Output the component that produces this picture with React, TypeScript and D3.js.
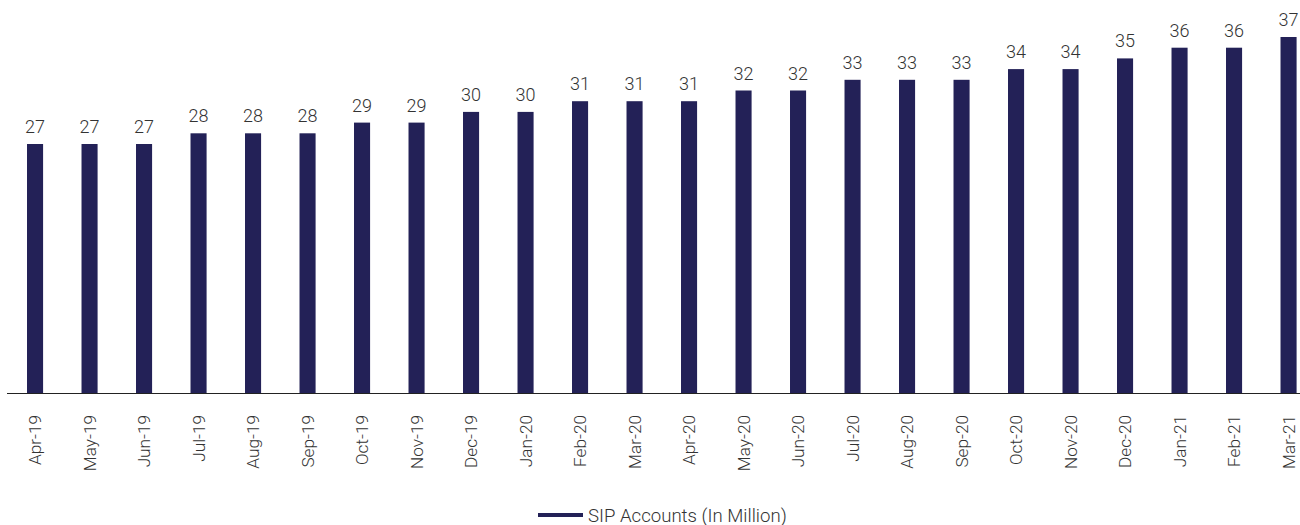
import * as d3 from "d3";
import { useEffect, useRef } from "react";

const months = [
  "Apr-19", "May-19", "Jun-19", "Jul-19", "Aug-19", "Sep-19", "Oct-19", "Nov-19",
  "Dec-19", "Jan-20", "Feb-20", "Mar-20", "Apr-20", "May-20", "Jun-20", "Jul-20",
  "Aug-20", "Sep-20", "Oct-20", "Nov-20", "Dec-20", "Jan-21", "Feb-21", "Mar-21",
];
const sipAccounts = [
  27, 27, 27, 28, 28, 28, 29, 29, 30, 30, 31, 31, 31, 32, 32, 33, 33, 33, 34, 34, 35, 36, 36, 37,
];
const seriesName = "SIP Accounts (In Million)";

const width = 1300;
const height = 525;
const barColor = "#232157";
const textColor = "#333333";
const font = "Roboto, 'Liberation Sans', sans-serif";

export default function App() {
  const ref = useRef(null);

  useEffect(() => {
    draw();
  });

  function draw() {
    const svg = d3.select(ref.current);
    // clean the slate
    svg.selectAll("*").remove();

    const baseline = 393;
    const x = d3
      .scaleBand()
      .domain(months)
      .range([7.8, 7.8 + 54.5 * months.length])
      .paddingInner(0.705)
      .paddingOuter(0.3525);
    const y = d3.scaleLinear().domain([3.73, 37]).range([baseline, 37]);

    // bars
    svg
      .append("g")
      .selectAll("rect")
      .data(sipAccounts)
      .enter()
      .append("rect")
      .attr("x", (_, i) => x(months[i]))
      .attr("y", (d) => y(d))
      .attr("width", x.bandwidth())
      .attr("height", (d) => baseline - y(d))
      .attr("fill", barColor);

    // value labels
    svg
      .append("g")
      .selectAll("text")
      .data(sipAccounts)
      .enter()
      .append("text")
      .attr("x", (_, i) => x(months[i]) + x.bandwidth() / 2)
      .attr("y", (d) => y(d) - 11)
      .attr("text-anchor", "middle")
      .attr("font-family", font)
      .attr("font-weight", 300)
      .attr("font-size", 18)
      .attr("fill", textColor)
      .text((d) => d);

    // x axis line
    svg
      .append("line")
      .attr("x1", 7)
      .attr("x2", width)
      .attr("y1", baseline + 0.5)
      .attr("y2", baseline + 0.5)
      .attr("stroke", "#222")
      .attr("stroke-width", 1.2);

    // month labels, rotated
    svg
      .append("g")
      .selectAll("text")
      .data(months)
      .enter()
      .append("text")
      .attr(
        "transform",
        (d) => "translate(" + (x(d) + x.bandwidth() / 2 + 6) + "," + 415 + ") rotate(-90)"
      )
      .attr("text-anchor", "end")
      .attr("font-family", font)
      .attr("font-weight", 300)
      .attr("font-size", 17.2)
      .attr("fill", textColor)
      .text((d) => d);

    // legend
    const legend = svg.append("g").attr("transform", "translate(538,515)");
    legend
      .append("rect")
      .attr("x", 0)
      .attr("y", -2)
      .attr("width", 45)
      .attr("height", 4)
      .attr("fill", barColor);
    legend
      .append("text")
      .attr("x", 50)
      .attr("y", 6.5)
      .attr("font-family", font)
      .attr("font-weight", 300)
      .attr("font-size", 18.6)
      .attr("fill", textColor)
      .text(seriesName);
  }

  return (
    <svg
      ref={ref}
      width={width}
      height={height}
      style={{ position: "absolute", left: 0, top: 0, display: "block" }}
    ></svg>
  );
}
